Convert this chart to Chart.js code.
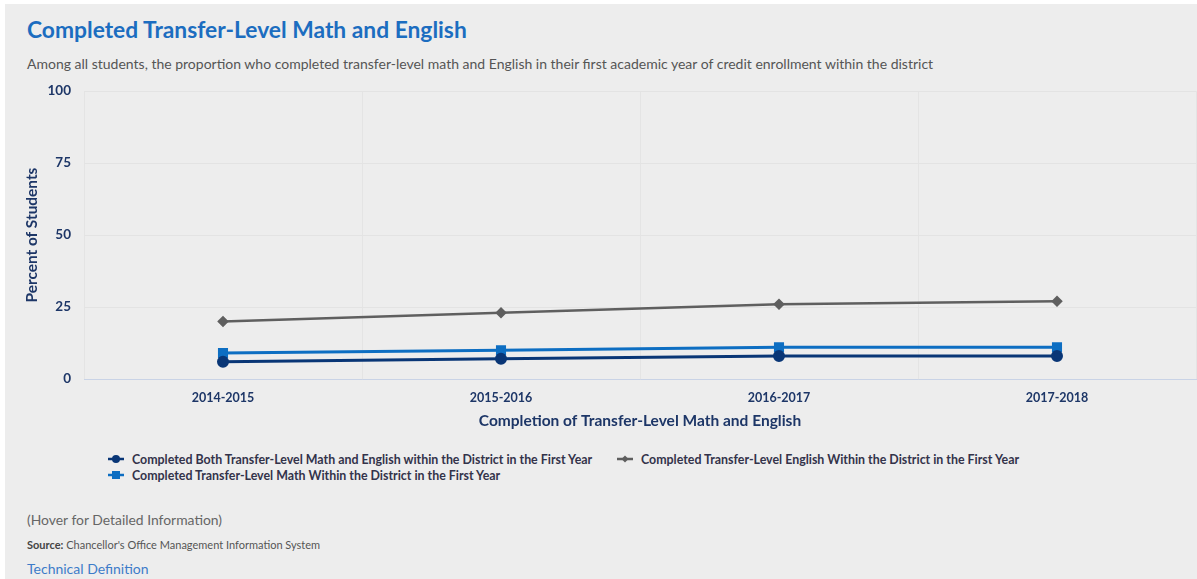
<!DOCTYPE html>
<html>
<head>
<meta charset="utf-8">
<script src="https://cdn.jsdelivr.net/npm/chart.js@4.4.1/dist/chart.umd.min.js"></script>
<style>
  html, body { margin: 0; padding: 0; background: #ffffff; }
  body { width: 1197px; height: 579px; position: relative; overflow: hidden; font-family: Lato, "Open Sans", sans-serif; }
  #panel { position: absolute; left: 5px; top: 4px; width: 1192px; height: 575px; background: #ededed; }
  #title { position: absolute; left: 27px; top: 15px; font-size: 22.8px; font-weight: 700; color: #1c6dc0; white-space: nowrap; }
  #subtitle { position: absolute; left: 27px; top: 55px; font-size: 14px; color: #555; white-space: nowrap; }
  #chartBox { position: absolute; left: 5px; top: 70px; width: 1200px; height: 370px; }
  #legend { position: absolute; left: 108px; top: 451px; display: grid; grid-template-columns: 509px auto; row-gap: 0px; }
  .item { display: flex; align-items: center; height: 16px; font-size: 12.4px; font-weight: 700; color: #33334a; white-space: nowrap; }
  .item svg { margin-right: 8px; }
  #hover { position: absolute; left: 27px; top: 511px; font-size: 13.9px; color: #666; white-space: nowrap; }
  #source { position: absolute; left: 27px; top: 538px; font-size: 11px; color: #555; white-space: nowrap; }
  #source b { color: #444; }
  #techdef { position: absolute; left: 27px; top: 560px; font-size: 14px; color: #3d7cc9; white-space: nowrap; }
</style>
</head>
<body>
<div id="panel"></div>
<div id="title">Completed Transfer-Level Math and English</div>
<div id="subtitle">Among all students, the proportion who completed transfer-level math and English in their first academic year of credit enrollment within the district</div>
<div id="chartBox"><canvas id="chart"></canvas></div>
<div id="legend"></div>
<div id="hover">(Hover for Detailed Information)</div>
<div id="source"><b>Source:</b> Chancellor's Office Management Information System</div>
<div id="techdef">Technical Definition</div>
<script>
// Academic years on the x axis
const years = ['2014-2015', '2015-2016', '2016-2017', '2017-2018'];

// Percent of students per year
const bothMathEnglish = [6, 7, 8, 8];
const englishOnly = [20, 23, 26, 27];
const mathOnly = [9, 10, 11, 11];

// Y axis tick values
const yTicks = [0, 25, 50, 75, 100];

const seriesNames = [
  'Completed Both Transfer-Level Math and English within the District in the First Year',
  'Completed Transfer-Level English Within the District in the First Year',
  'Completed Transfer-Level Math Within the District in the First Year'
];

const navy = '#093676';
const grey = '#5f5f5f';
const blue = '#0d6ec2';
const axisNavy = '#1d3667';

const datasets = [
  { label: seriesNames[0], data: bothMathEnglish, borderColor: navy, backgroundColor: navy,
    borderWidth: 3, pointStyle: 'circle', pointRadius: 4.5, pointHoverRadius: 5.5 },
  { label: seriesNames[1], data: englishOnly, borderColor: grey, backgroundColor: grey,
    borderWidth: 2.5, pointStyle: 'rectRot', pointRadius: 4, pointHoverRadius: 5 },
  { label: seriesNames[2], data: mathOnly, borderColor: blue, backgroundColor: blue,
    borderWidth: 3, pointStyle: 'rect', pointRadius: 5, pointHoverRadius: 6 }
];

// Draw series in the stacking order: grey first, navy on top of blue
datasets[0].order = 1;
datasets[2].order = 2;
datasets[1].order = 3;

new Chart(document.getElementById('chart'), {
  type: 'line',
  data: { labels: years, datasets: datasets },
  options: {
    responsive: true,
    maintainAspectRatio: false,
    animation: false,
    layout: { padding: { top: 0, right: 0, left: 0, bottom: 0 } },
    plugins: {
      legend: { display: false },
      tooltip: { enabled: true }
    },
    elements: { line: { tension: 0 } },
    scales: {
      x: {
        offset: true,
        grid: { display: true, offset: true, color: '#e4e4e4', drawTicks: false },
        border: { display: true, color: '#c9d3e6', width: 1 },
        ticks: { color: axisNavy, padding: 11, font: { family: 'Lato', size: 12.5, weight: 'bold' } },
        title: { display: true, text: 'Completion of Transfer-Level Math and English', color: axisNavy,
          font: { family: 'Lato', size: 15.5, weight: 'bold' }, padding: { top: 0, bottom: 10 } },
        afterFit: (scale) => { scale.height = 61; }
      },
      y: {
        min: 0,
        max: 100,
        afterBuildTicks: (scale) => { scale.ticks = yTicks.map(v => ({ value: v })); },
        grid: { color: '#e3e3e3', drawTicks: false },
        border: { display: false },
        ticks: { color: axisNavy, padding: 13, font: { family: 'Lato', size: 13.5, weight: 'bold' } },
        title: { display: true, text: 'Percent of Students', color: axisNavy,
          font: { family: 'Lato', size: 15.4, weight: 'bold' }, padding: { top: 18, bottom: 0 } },
        afterFit: (scale) => { scale.width = 79; }
      }
    }
  }
});

// Legend built from the same series definitions
function markerSvg(ds) {
  const c = ds.borderColor;
  let shape = '';
  if (ds.pointStyle === 'circle') shape = `<circle cx="8" cy="5" r="4" fill="${c}"/>`;
  else if (ds.pointStyle === 'rect') shape = `<rect x="4" y="1" width="8" height="8" fill="${c}"/>`;
  else shape = `<polygon points="8,1.5 11.5,5 8,8.5 4.5,5" fill="${c}"/>`;
  return `<svg width="16" height="10" viewBox="0 0 16 10"><line x1="0" y1="5" x2="16" y2="5" stroke="${c}" stroke-width="2.5"/>${shape}</svg>`;
}
const legendEl = document.getElementById('legend');
datasets.forEach(ds => {
  const div = document.createElement('div');
  div.className = 'item';
  div.innerHTML = markerSvg(ds) + '<span></span>';
  div.querySelector('span').textContent = ds.label;
  legendEl.appendChild(div);
});
</script>
</body>
</html>
